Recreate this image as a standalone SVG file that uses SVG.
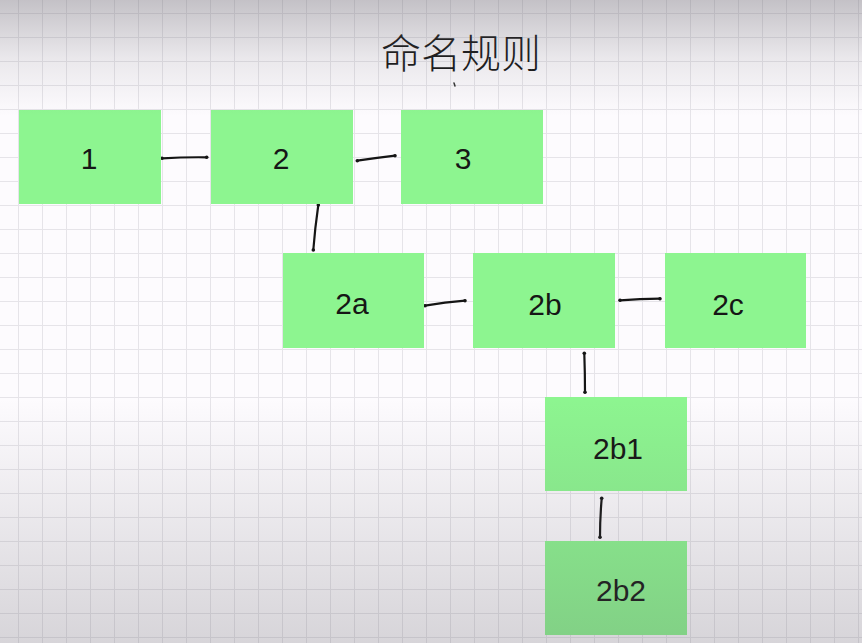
<svg xmlns="http://www.w3.org/2000/svg" width="862" height="643" viewBox="0 0 862 643">
<defs>
<pattern id="grid" patternUnits="userSpaceOnUse" x="18" y="13" width="24" height="24">
<path d="M0.5 0 V24 M0 0.5 H24" stroke="#e6e4e9" stroke-width="1" fill="none"/>
</pattern>
<linearGradient id="shade" x1="0" y1="0" x2="0" y2="1">
<stop offset="0" stop-color="#5e5b64" stop-opacity="0.36"/>
<stop offset="0.09" stop-color="#5e5b64" stop-opacity="0.12"/>
<stop offset="0.18" stop-color="#5e5b64" stop-opacity="0.0"/>
<stop offset="0.62" stop-color="#5e5b64" stop-opacity="0.0"/>
<stop offset="1" stop-color="#5e5b64" stop-opacity="0.24"/>
</linearGradient>
<marker id="dot" markerUnits="userSpaceOnUse" markerWidth="6" markerHeight="6" refX="3" refY="3">
<circle cx="3" cy="3" r="1.8" fill="#151515"/>
</marker>
</defs>
<style>
.box{fill:#8df590;}
.lbl{font-family:"Liberation Sans","DejaVu Sans",sans-serif;font-size:30px;fill:#161616;text-anchor:middle;}
.title{font-family:"Noto Sans CJK SC","DejaVu Sans",sans-serif;font-size:40px;font-weight:300;fill:#161616;text-anchor:middle;}
.con{fill:none;stroke:#151515;stroke-width:2.2;stroke-linecap:round;marker-start:url(#dot);marker-end:url(#dot);}
</style>
<rect width="862" height="643" fill="#fdfbfe"/>
<rect width="862" height="643" fill="url(#grid)"/>
<g id="title">
<text class="title" x="461" y="68">命名规则</text>
<path d="M454 83 L455 86" stroke="#333" stroke-width="1.5" stroke-linecap="round"/>
</g>
<g id="connectors">
<path class="con" d="M162 158.3 Q185 157 206.7 157.3"/>
<path class="con" d="M357.3 160.7 Q376 158 395 155.7"/>
<circle cx="350.7" cy="158" r="1" fill="#555"/>
<path class="con" d="M318.3 205 Q315 228 313.3 250"/>
<path class="con" d="M425 305.7 Q445 302 465 300.7"/>
<circle cx="612.7" cy="300" r="1.6" fill="#151515"/>
<path class="con" d="M620 300.3 Q640 299 660 298.7"/>
<path class="con" d="M584.3 353.3 Q585 373 585 392.3"/>
<path class="con" d="M601.7 498.3 Q600 518 600 537.3"/>
</g>
<g id="node-1"><rect class="box" x="19" y="110" width="142" height="94"/><text class="lbl" x="89" y="169">1</text></g>
<g id="node-2"><rect class="box" x="211" y="110" width="142" height="94"/><text class="lbl" x="281" y="169">2</text></g>
<g id="node-3"><rect class="box" x="401" y="110" width="142" height="94"/><text class="lbl" x="463" y="169">3</text></g>
<g id="node-2a"><rect class="box" x="283" y="253" width="141" height="95"/><text class="lbl" x="352" y="314">2a</text></g>
<g id="node-2b"><rect class="box" x="473" y="253" width="142" height="95"/><text class="lbl" x="545" y="315">2b</text></g>
<g id="node-2c"><rect class="box" x="665" y="253" width="141" height="95"/><text class="lbl" x="728" y="315">2c</text></g>
<g id="node-2b1"><rect class="box" x="545" y="397" width="142" height="94"/><text class="lbl" x="618" y="459">2b1</text></g>
<g id="node-2b2"><rect class="box" x="545" y="541" width="142" height="94"/><text class="lbl" x="621" y="601">2b2</text></g>
<rect width="862" height="643" fill="url(#shade)" pointer-events="none"/>
</svg>
